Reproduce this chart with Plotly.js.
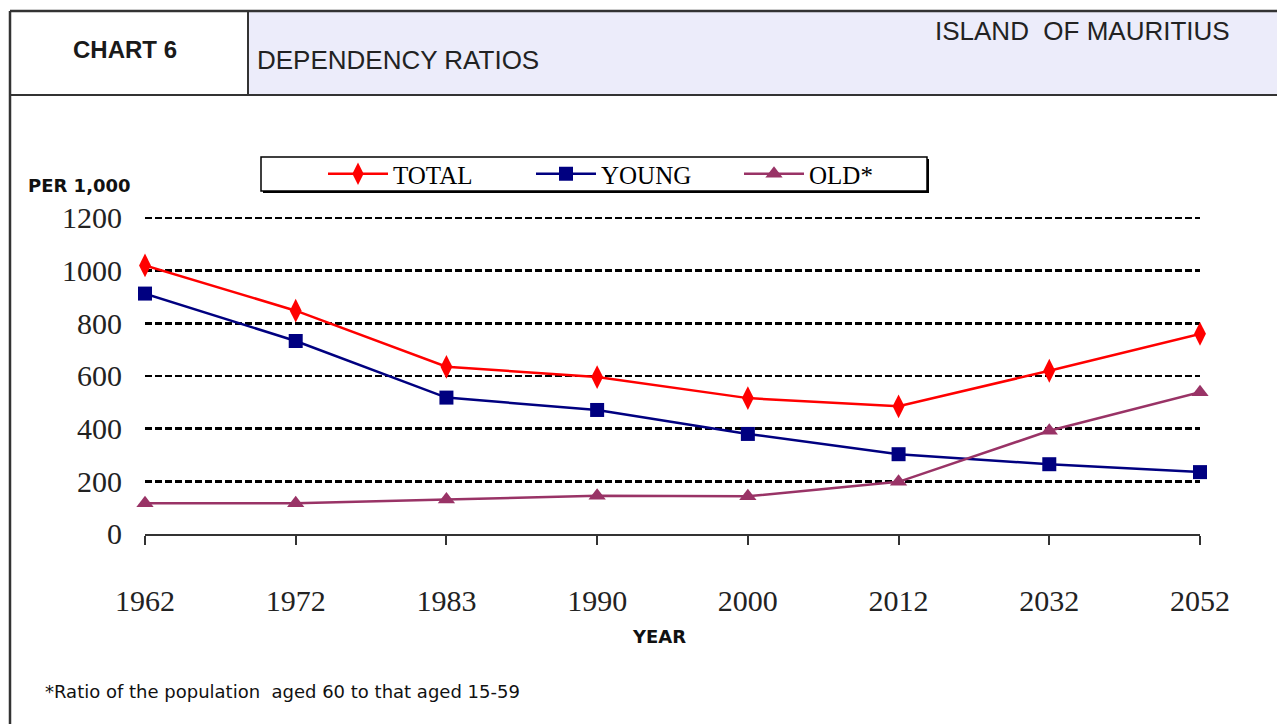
<!DOCTYPE html>
<html>
<head>
<meta charset="utf-8">
<script src="https://cdn.plot.ly/plotly-3.0.1.min.js"></script>
<style>
  html, body { margin: 0; padding: 0; background: #ffffff; }
  #chart { width: 1277px; height: 724px; }
</style>
</head>
<body>
<div id="chart"></div>
<script>
// ---- data ----
const years = ["1962", "1972", "1983", "1990", "2000", "2012", "2032", "2052"];
const totalRatio = [1020, 848, 635, 596, 516, 485, 620, 760];
const youngRatio = [913, 733, 518, 471, 380, 303, 265, 235];
const oldRatio = [117, 117, 131, 145, 143, 198, 392, 538];
const yTicks = [0, 200, 400, 600, 800, 1000, 1200];
const seriesNames = ["TOTAL", "YOUNG", "OLD*"];

// ---- page geometry helpers (pixel -> paper, margins are zero) ----
const W = 1277, H = 724;
const X = px => px / W;
const Y = py => 1 - py / H;

// y axis: 0 at pixel 534, 1200 at pixel 218; range extended a little so the 1200 grid line is drawn
const yMax = 1210;
const yTopPx = 534 - (534 - 218) * yMax / 1200;

const traces = [
  {
    x: years, y: totalRatio, name: seriesNames[0], type: "scatter", mode: "lines+markers",
    line: { color: "#ff0000", width: 2.5 },
    marker: { symbol: "diamond-tall", size: 17, color: "#ff0000" },
    cliponaxis: false
  },
  {
    x: years, y: youngRatio, name: seriesNames[1], type: "scatter", mode: "lines+markers",
    line: { color: "#000080", width: 2.5 },
    marker: { symbol: "square", size: 14, color: "#000080" },
    cliponaxis: false
  },
  {
    x: years, y: oldRatio, name: seriesNames[2], type: "scatter", mode: "lines+markers",
    line: { color: "#993366", width: 2.5 },
    marker: { symbol: "triangle-up", size: 15, color: "#993366" },
    cliponaxis: false
  }
];

const border = "#333333";
const shapes = [
  { type: "rect", xref: "paper", yref: "paper", x0: X(248), x1: X(1290), y0: Y(95), y1: Y(11),
    fillcolor: "#ececfa", line: { width: 0 }, layer: "below" },
  { type: "line", xref: "paper", yref: "paper", x0: X(10), x1: X(1290), y0: Y(11), y1: Y(11),
    line: { color: border, width: 2.5 } },
  { type: "line", xref: "paper", yref: "paper", x0: X(10), x1: X(1290), y0: Y(95), y1: Y(95),
    line: { color: border, width: 2 } },
  { type: "line", xref: "paper", yref: "paper", x0: X(248), x1: X(248), y0: Y(11), y1: Y(95),
    line: { color: border, width: 2 } },
  { type: "line", xref: "paper", yref: "paper", x0: X(10), x1: X(10), y0: Y(11), y1: Y(730),
    line: { color: border, width: 2.5 } },
  { type: "rect", xref: "paper", yref: "paper", x0: X(263), x1: X(929), y0: Y(193), y1: Y(159),
    fillcolor: "#000000", line: { width: 0 } },
  { type: "rect", xref: "paper", yref: "paper", x0: X(261), x1: X(927), y0: Y(191), y1: Y(157),
    fillcolor: "#ffffff", line: { color: "#000000", width: 1.5 } }
];

const annotations = [
  { text: "CHART 6", xref: "paper", yref: "paper", x: X(125), y: Y(50), xanchor: "center", yanchor: "middle",
    showarrow: false, font: { family: "Liberation Sans, Arial, sans-serif", size: 24, color: "#1a1a1a", weight: "bold" } },
  { text: "DEPENDENCY RATIOS", xref: "paper", yref: "paper", x: X(255), y: Y(60), xanchor: "left", yanchor: "middle",
    showarrow: false, font: { family: "Liberation Sans, Arial, sans-serif", size: 26, color: "#222222" } },
  { text: "ISLAND\u00a0\u00a0OF MAURITIUS", xref: "paper", yref: "paper", x: X(1232), y: Y(31), xanchor: "right", yanchor: "middle",
    showarrow: false, font: { family: "Liberation Sans, Arial, sans-serif", size: 26, color: "#222222" } },
  { text: "PER 1,000", xref: "paper", yref: "paper", x: X(26), y: Y(185), xanchor: "left", yanchor: "middle",
    showarrow: false, font: { family: "DejaVu Sans, sans-serif", size: 18, color: "#111111", weight: "bold" } },
  { text: "YEAR", xref: "paper", yref: "paper", x: X(659), y: Y(636), xanchor: "center", yanchor: "middle",
    showarrow: false, font: { family: "DejaVu Sans, sans-serif", size: 18, color: "#111111", weight: "bold" } },
  { text: "*Ratio of the population\u00a0 aged 60 to that aged 15-59", xref: "paper", yref: "paper", x: X(43), y: Y(691), xanchor: "left", yanchor: "middle",
    showarrow: false, font: { family: "DejaVu Sans, sans-serif", size: 18, color: "#111111" } }
];

const layout = {
  width: W, height: H, autosize: false,
  margin: { l: 0, r: 0, t: 0, b: 0, pad: 0 },
  paper_bgcolor: "#ffffff", plot_bgcolor: "#ffffff",
  showlegend: true,
  legend: {
    orientation: "h", x: X(323), y: Y(174), xanchor: "left", yanchor: "middle",
    bgcolor: "rgba(0,0,0,0)", borderwidth: 0,
    itemwidth: 60,
    entrywidth: 133, entrywidthmode: "pixels",
    font: { family: "Liberation Serif, Times New Roman, serif", size: 25, color: "#000000" },
    itemclick: false, itemdoubleclick: false
  },
  xaxis: {
    domain: [X(145), X(1200)],
    type: "category", categoryorder: "array", categoryarray: years,
    range: [0, years.length - 1],
    showgrid: false, zeroline: false,
    showline: true, linecolor: "#333333", linewidth: 2,
    ticks: "outside", ticklen: 9, tickwidth: 2, tickcolor: "#333333",
    ticklabelstandoff: 30,
    tickfont: { family: "Liberation Serif, Times New Roman, serif", size: 30, color: "#222222" },
    fixedrange: true
  },
  yaxis: {
    domain: [Y(534), Y(yTopPx)],
    range: [0, yMax],
    tickvals: yTicks, ticktext: yTicks.map(String),
    showgrid: true, gridcolor: "#000000", gridwidth: 2.5, griddash: "7px,3px",
    zeroline: false, showline: false, ticks: "",
    ticklabelstandoff: 22,
    tickfont: { family: "Liberation Serif, Times New Roman, serif", size: 30, color: "#222222" },
    fixedrange: true
  },
  shapes: shapes,
  annotations: annotations
};

Plotly.newPlot("chart", traces, layout, { displayModeBar: false, staticPlot: true });
</script>
</body>
</html>
